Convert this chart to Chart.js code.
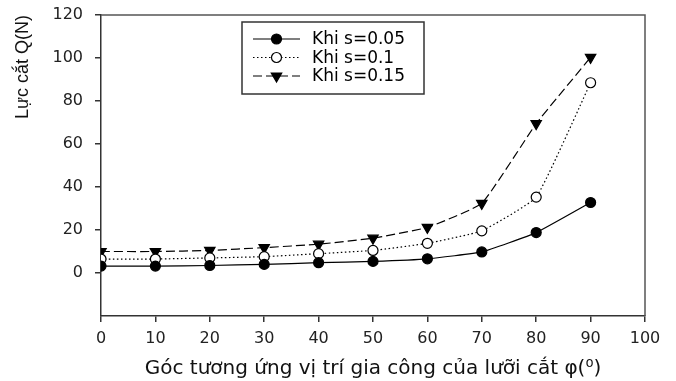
<!DOCTYPE html>
<html>
<head>
<meta charset="utf-8">
<script src="https://cdn.jsdelivr.net/npm/chart.js@4.4.1/dist/chart.umd.min.js"></script>
<style>
  html, body { margin: 0; padding: 0; background: #fff; }
  #wrap { width: 676px; height: 381px; }
</style>
</head>
<body>
<div id="wrap"><canvas id="mycanvas" width="676" height="381"></canvas></div>
<script>
// goc (do) va luc cat Q(N) doc tu hinh
var angles = [0, 10, 20, 30, 40, 50, 60, 70, 80, 90];
var q005 = [3.2, 3.2, 3.5, 4.0, 4.8, 5.4, 6.6, 9.8, 18.8, 32.8];
var q010 = [6.5, 6.5, 7.0, 7.6, 9.0, 10.5, 13.8, 19.6, 35.3, 88.5];
var q015 = [10.0, 10.0, 10.5, 11.8, 13.4, 16.2, 21.2, 32.4, 69.5, 100.3];
var seriesLabels = ["Khi s=0.05", "Khi s=0.1", "Khi s=0.15"];
var yTicks = [0, 20, 40, 60, 80, 100, 120];
var xTicks = [0, 10, 20, 30, 40, 50, 60, 70, 80, 90, 100];

var fontFam = "'DejaVu Sans', sans-serif";

function toXY(vals) {
  var pts = [];
  for (var i = 0; i < angles.length; i++) {
    pts.push({ x: angles[i], y: vals[i] });
  }
  return pts;
}

function makeSet(label, vals, dash, style, filled) {
  return {
    label: label,
    data: toXY(vals),
    borderColor: '#000',
    borderWidth: 1.2,
    borderDash: dash,
    backgroundColor: filled ? '#000' : '#fff',
    pointBorderColor: '#000',
    pointBackgroundColor: filled ? '#000' : '#fff',
    pointBorderWidth: 1.2,
    pointStyle: style,
    pointRotation: style === 'triangle' ? 180 : 0,
    pointRadius: style === 'triangle' ? 6 : 5,
    tension: 0.12,
    fill: false
  };
}

// khung + chu giai
var framePlugin = {
  id: 'frame',
  afterDatasetsDraw: function(chart) {
    var ctx = chart.ctx;
    var a = chart.chartArea;
    ctx.save();
    ctx.strokeStyle = '#555';
    ctx.lineWidth = 1.5;
    ctx.beginPath();
    ctx.moveTo(a.left, a.top);
    ctx.lineTo(a.right, a.top);
    ctx.lineTo(a.right, a.bottom);
    ctx.stroke();

    // legend box
    var bx = a.left + 141, by = a.top + 7, bw = 182, bh = 72;
    ctx.fillStyle = '#fff';
    ctx.fillRect(bx, by, bw, bh);
    ctx.strokeStyle = '#333';
    ctx.lineWidth = 1.5;
    ctx.strokeRect(bx, by, bw, bh);
    ctx.font = "17px " + fontFam;
    ctx.textBaseline = 'middle';
    chart.data.datasets.forEach(function(ds, i) {
      var yy = by + 17 + i * 18.5;
      var x0 = bx + 11, x1 = bx + 58;
      ctx.strokeStyle = '#000';
      ctx.lineWidth = 1.2;
      ctx.setLineDash(ds.borderDash || []);
      ctx.beginPath();
      ctx.moveTo(x0, yy);
      ctx.lineTo(x1, yy);
      ctx.stroke();
      ctx.setLineDash([]);
      ctx.fillStyle = ds.pointBackgroundColor;
      ctx.strokeStyle = '#000';
      Chart.helpers.drawPoint(ctx, {
        pointStyle: ds.pointStyle,
        rotation: ds.pointRotation,
        radius: ds.pointRadius,
        borderWidth: 1.2
      }, (x0 + x1) / 2, yy);
      ctx.fillStyle = '#000';
      ctx.fillText(ds.label, bx + 70, yy + 1);
    });
    ctx.restore();
  }
};

var ctx = document.getElementById('mycanvas');
var chart = new Chart(ctx, {
  type: 'line',
  data: {
    datasets: [
      makeSet(seriesLabels[0], q005, [], 'circle', true),
      makeSet(seriesLabels[1], q010, [1.5, 2.5], 'circle', false),
      makeSet(seriesLabels[2], q015, [9, 4], 'triangle', true)
    ]
  },
  options: {
    responsive: false,
    animation: false,
    layout: { padding: { top: 15, right: 31, left: 12, bottom: 0 } },
    plugins: { legend: { display: false }, tooltip: { enabled: false } },
    scales: {
      x: {
        type: 'linear',
        min: 0,
        max: 100,
        afterBuildTicks: function(scale) {
          scale.ticks = xTicks.map(function(v) { return { value: v }; });
        },
        afterFit: function(scale) { scale.height = 65; },
        border: { display: true, color: '#333', width: 1.5 },
        grid: { drawOnChartArea: false, color: '#333', lineWidth: 1.5, tickLength: 6 },
        ticks: { color: '#222', font: { family: fontFam, size: 16 }, padding: 7, maxRotation: 0 },
        title: {
          display: true,
          text: 'Góc tương ứng vị trí gia công của lưỡi cắt φ(⁰)',
          color: '#111',
          font: { family: fontFam, size: 20 },
          padding: { top: 4, bottom: 0 }
        }
      },
      y: {
        type: 'linear',
        min: -20,
        max: 120,
        afterBuildTicks: function(scale) {
          scale.ticks = yTicks.map(function(v) { return { value: v }; });
        },
        afterFit: function(scale) {
          scale.width = 89;
          scale.paddingTop = 0;
          scale.paddingBottom = 0;
        },
        border: { display: true, color: '#333', width: 1.5 },
        grid: { drawOnChartArea: false, color: '#333', lineWidth: 1.5, tickLength: 6 },
        ticks: { color: '#222', font: { family: fontFam, size: 16 }, padding: 12 },
        title: {
          display: true,
          text: 'Lực cắt Q(N)',
          align: 'end',
          color: '#111',
          font: { family: "'Liberation Sans', Arial, sans-serif", size: 18 },
          padding: { top: 0, bottom: 4 }
        }
      }
    }
  },
  plugins: [framePlugin]
});
</script>
</body>
</html>
